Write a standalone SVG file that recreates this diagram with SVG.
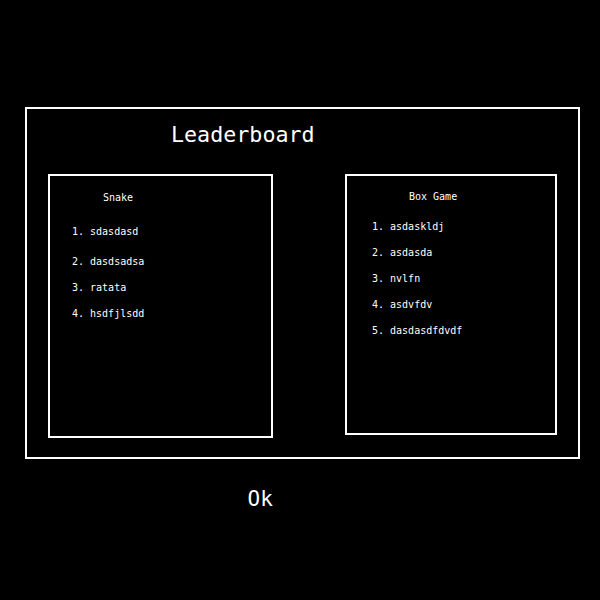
<svg xmlns="http://www.w3.org/2000/svg" width="600" height="600" viewBox="0 0 600 600">
<style>
.box{fill:none;stroke:#fff;stroke-width:2}
text{fill:#fff;font-family:"DejaVu Sans Mono",monospace}
.s{font-size:10px}
</style>
<rect width="600" height="600" fill="#000"/>
<g id="window">
<rect class="box" x="26" y="108" width="553" height="350"/>
<text x="171" y="142" font-size="21.7">Leaderboard</text>
</g>
<g id="snake">
<rect class="box" x="49" y="175" width="223" height="262"/>
<text class="s" x="103" y="201">Snake</text>
<text class="s" x="72" y="235">1. sdasdasd</text>
<text class="s" x="72" y="265">2. dasdsadsa</text>
<text class="s" x="72" y="291">3. ratata</text>
<text class="s" x="72" y="317">4. hsdfjlsdd</text>
</g>
<g id="boxgame">
<rect class="box" x="346" y="175" width="210" height="259"/>
<text class="s" x="409" y="200">Box Game</text>
<text class="s" x="372" y="230">1. asdaskldj</text>
<text class="s" x="372" y="256">2. asdasda</text>
<text class="s" x="372" y="282">3. nvlfn</text>
<text class="s" x="372" y="308">4. asdvfdv</text>
<text class="s" x="372" y="334">5. dasdasdfdvdf</text>
</g>
<g id="ok">
<text x="247.5" y="506" font-size="21">Ok</text>
</g>
<g id="connectors"/>
</svg>
